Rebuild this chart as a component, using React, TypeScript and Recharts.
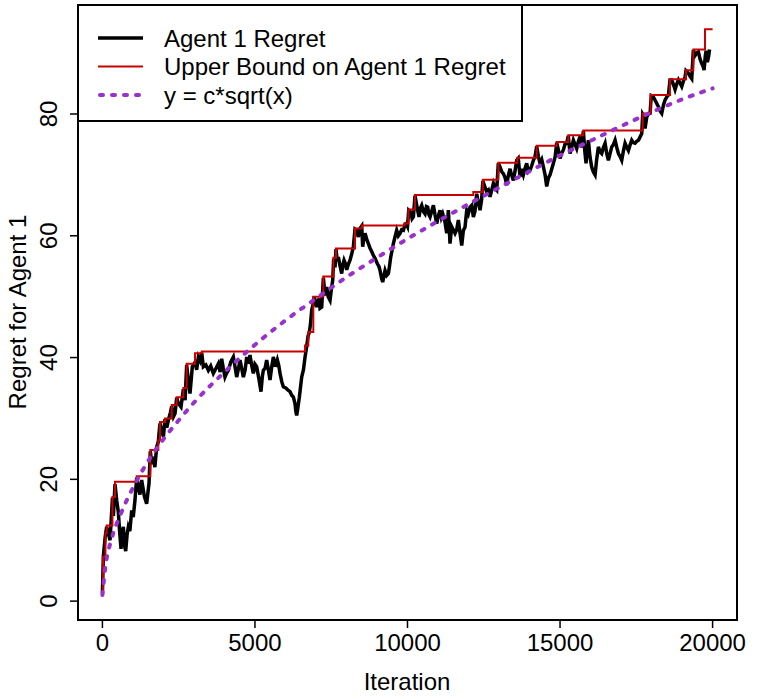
import { LineChart, Line, XAxis, YAxis, Legend } from 'recharts'

// Agent 1 regret (black trace)
const regretX = [
  0, 30, 90, 140, 200, 250, 330, 360, 413, 470, 522, 570, 610, 650, 686, 730, 763, 810, 850, 900,
  960, 1010, 1068, 1124, 1178, 1230, 1287, 1375, 1450, 1528, 1570, 1620, 1669, 1720, 1778, 1833, 1855, 1888, 1942, 2000,
  2052, 2110, 2161, 2230, 2271, 2330, 2380, 2435, 2489, 2576, 2653, 2710, 2762, 2820, 2871, 2948, 3035, 3090, 3145, 3200,
  3255, 3308, 3390, 3472, 3550, 3636, 3720, 3800, 3860, 3909, 3960, 4018, 4070, 4128, 4210, 4292, 4350, 4401, 4460, 4510,
  4570, 4620, 4680, 4729, 4790, 4838, 4890, 4947, 5000, 5056, 5130, 5198, 5240, 5275, 5330, 5384, 5440, 5493, 5550, 5603,
  5670, 5734, 5780, 5822, 5880, 5931, 6010, 6095, 6150, 6204, 6260, 6314, 6340, 6368, 6400, 6456, 6490, 6532, 6590, 6642,
  6696, 6740, 6784, 6820, 6860, 6900, 6937, 6980, 7025, 7060, 7101, 7133, 7188, 7242, 7298, 7352, 7400, 7461, 7500, 7548,
  7580, 7625, 7656, 7700, 7734, 7790, 7843, 7880, 7920, 7960, 8007, 8060, 8116, 8170, 8226, 8279, 8335, 8390, 8444, 8500,
  8531, 8570, 8608, 8660, 8717, 8770, 8826, 8880, 8936, 9012, 9060, 9100, 9150, 9187, 9230, 9264, 9320, 9373, 9410, 9450,
  9490, 9537, 9590, 9646, 9700, 9756, 9810, 9865, 9920, 9952, 10000, 10040, 10105, 10150, 10193, 10246, 10302, 10340, 10378, 10420,
  10466, 10520, 10575, 10620, 10663, 10700, 10739, 10790, 10849, 10900, 10958, 11010, 11067, 11110, 11155, 11220, 11286, 11340, 11393, 11449,
  11500, 11558, 11612, 11667, 11720, 11777, 11831, 11885, 11941, 11994, 12050, 12104, 12159, 12210, 12268, 12320, 12378, 12430, 12470, 12540,
  12596, 12650, 12706, 12760, 12815, 12870, 12924, 12976, 13033, 13090, 13143, 13200, 13252, 13300, 13361, 13410, 13470, 13520, 13580, 13630,
  13689, 13740, 13798, 13850, 13907, 13960, 14017, 14070, 14126, 14180, 14235, 14290, 14344, 14400, 14454, 14510, 14563, 14620, 14672, 14730,
  14781, 14840, 14891, 14950, 15000, 15050, 15109, 15160, 15219, 15270, 15328, 15380, 15437, 15490, 15546, 15600, 15656, 15710, 15765, 15810,
  15852, 15890, 15929, 15980, 16038, 16090, 16148, 16200, 16257, 16310, 16366, 16420, 16476, 16530, 16585, 16640, 16694, 16750, 16804, 16860,
  16913, 16970, 17022, 17080, 17131, 17190, 17241, 17300, 17350, 17400, 17459, 17510, 17569, 17620, 17678, 17709, 17733, 17787, 17842, 17900,
  17951, 17990, 18060, 18140, 18224, 18280, 18333, 18390, 18443, 18500, 18552, 18604, 18661, 18720, 18770, 18830, 18880, 18940, 18989, 19050,
  19098, 19128, 19207, 19260, 19317, 19368, 19426, 19480, 19535, 19590, 19644, 19690, 19721, 19760, 19786, 19830, 19870, 19900,
]
const regretY = [
  1.3, 7.3, 10.5, 12.2, 11.0, 10.0, 17.0, 14.0, 19.2, 16.5, 14.6, 11.0, 8.6, 11.5, 12.2, 9.0, 8.2, 11.0, 12.2, 11.5,
  14.9, 13.8, 16.6, 20.3, 18.8, 17.5, 19.9, 17.2, 16.0, 19.4, 24.6, 22.5, 23.7, 22.0, 25.3, 26.2, 27.5, 29.2, 28.0, 27.0,
  29.9, 28.5, 29.7, 31.0, 32.0, 30.3, 30.8, 33.4, 32.5, 31.9, 34.8, 33.0, 38.8, 36.0, 34.1, 38.5, 39.2, 38.0, 40.1, 39.5,
  40.8, 38.5, 38.8, 37.9, 38.6, 37.4, 38.2, 39.0, 37.6, 39.8, 38.3, 36.8, 37.4, 37.9, 39.3, 40.1, 38.4, 36.8, 38.2, 39.6,
  38.1, 36.8, 38.0, 40.1, 39.0, 40.4, 38.8, 37.4, 38.9, 38.5, 36.5, 34.4, 36.8, 37.9, 38.2, 39.6, 38.0, 36.3, 38.5, 40.1,
  38.5, 39.6, 38.7, 37.4, 36.0, 35.2, 35.0, 34.6, 34.4, 33.8, 33.5, 32.4, 31.2, 30.5, 31.5, 33.5, 35.0, 36.8, 38.0, 40.1,
  41.8, 43.5, 44.2, 45.5, 47.8, 48.6, 50.0, 49.3, 48.3, 49.0, 49.7, 48.1, 48.3, 53.1, 50.2, 51.6, 50.0, 49.4, 51.0, 52.7,
  56.2, 54.8, 57.8, 55.8, 56.5, 55.0, 53.8, 55.2, 56.0, 55.5, 54.4, 55.3, 56.0, 57.0, 58.2, 61.1, 60.9, 59.8, 61.2, 61.6,
  58.2, 59.5, 60.4, 59.5, 58.7, 58.0, 57.4, 56.8, 56.3, 55.4, 55.0, 54.3, 53.0, 52.4, 53.5, 54.3, 53.5, 53.8, 55.0, 56.5,
  57.5, 58.7, 59.8, 60.9, 60.0, 60.4, 61.0, 60.9, 61.9, 62.0, 61.5, 64.2, 63.9, 62.8, 63.1, 66.6, 65.0, 64.0, 63.1, 64.5,
  65.0, 64.0, 63.6, 64.8, 64.7, 63.5, 63.1, 64.0, 65.0, 63.5, 62.0, 63.3, 64.2, 63.0, 63.6, 62.5, 60.4, 64.2, 58.7, 61.5,
  61.0, 60.4, 61.0, 62.6, 60.5, 58.4, 60.9, 61.4, 64.2, 63.6, 64.7, 65.0, 63.1, 64.0, 66.9, 65.5, 64.2, 66.0, 69.0, 68.0,
  67.2, 67.5, 66.4, 67.5, 68.6, 67.8, 67.5, 71.9, 71.3, 70.5, 70.2, 69.5, 68.3, 69.8, 71.0, 70.0, 69.1, 70.5, 72.4, 72.7,
  69.7, 71.0, 70.0, 71.0, 71.9, 70.5, 70.8, 71.5, 72.4, 73.0, 74.7, 73.0, 71.9, 72.5, 71.3, 70.0, 68.1, 69.5, 70.0, 71.0,
  71.9, 73.0, 75.3, 74.0, 72.7, 73.5, 74.1, 75.0, 75.2, 76.4, 73.5, 74.5, 75.7, 75.0, 74.3, 75.5, 76.3, 74.5, 77.2, 74.0,
  71.9, 74.0, 75.7, 73.0, 71.3, 70.5, 70.0, 72.5, 74.6, 73.8, 73.5, 74.5, 75.2, 73.5, 72.4, 73.5, 74.6, 75.0, 75.7, 74.5,
  73.5, 73.0, 72.4, 74.0, 75.2, 74.5, 74.0, 75.0, 75.7, 75.3, 75.2, 75.5, 75.7, 76.2, 76.8, 80.0, 79.8, 77.6, 79.5, 80.0,
  80.1, 83.0, 82.8, 82.0, 81.2, 80.5, 80.1, 81.5, 82.3, 82.8, 83.1, 85.6, 85.6, 84.8, 84.0, 85.0, 85.6, 85.0, 84.5, 85.5,
  86.1, 87.1, 86.7, 86.2, 85.8, 90.5, 89.6, 90.0, 90.2, 89.0, 88.3, 87.8, 87.2, 89.5, 90.4, 88.5, 89.5, 90.6,
]

// upper bound (red step line): x where each step starts, and its level
const boundX = [
  0, 20, 100, 140, 330, 413, 1124, 1570, 1833, 1888, 2052, 2271, 2435, 2653, 2762, 3035, 3255, 6640, 6750, 6913,
  7240, 7570, 7656, 8279, 8500, 9900, 10030, 10246, 12157, 12470, 12976, 13599, 14235, 14890, 15270, 15762, 17709, 17971, 18604, 19128,
  19368, 19751, 20000,
]
const boundY = [
  1.0, 7.3, 11.2, 12.4, 17.1, 19.6, 20.5, 24.8, 26.4, 29.4, 30.0, 32.2, 33.5, 35.0, 39.0, 40.7, 41.0, 42.0, 44.2, 50.0,
  53.3, 56.4, 57.9, 61.2, 61.7, 62.0, 64.3, 66.7, 67.2, 69.2, 72.0, 72.8, 74.8, 75.4, 76.5, 77.3, 80.1, 83.1, 85.7, 87.2,
  90.6, 93.9, 93.9,
]

// dotted reference curve y = c*sqrt(x), read at these iterations
const curveX = [0, 100, 300, 600, 1000, 1500, 2000, 2500, 3000, 4000, 5000, 6000, 7000, 8000, 9000, 10000, 11000, 12000, 13000, 14000, 15000, 16000, 17000, 18000, 19000, 20000]
const curveY = [1.0, 5.7, 10.2, 14.3, 18.6, 23.0, 26.6, 29.7, 32.6, 37.6, 42.1, 46.1, 49.7, 53.2, 56.4, 59.5, 62.4, 65.2, 67.9, 70.6, 73.2, 75.6, 78.0, 80.3, 82.4, 84.2]

const xTicks = [0, 5000, 10000, 15000, 20000]
const yTicks = [0, 20, 40, 60, 80]
const seriesNames = ['Agent 1 Regret', 'Upper Bound on Agent 1 Regret', 'y = c*sqrt(x)']

const FONT = '"Liberation Sans", Arial, sans-serif'
const BLACK = '#000000'
const RED = '#c80000'
const PURPLE = '#9932cc'

const regret = regretX.map((x, i) => ({ x, y: regretY[i] }))
const bound = boundX.map((x, i) => ({ x, y: boundY[i] }))
const curve = curveX.map((x, i) => ({ x, y: curveY[i] }))

const XTick = (props: any) => {
  const { x, payload } = props
  return (
    <text x={x} y={651} textAnchor="middle" fontSize={24} fontFamily={FONT} fill="#000">
      {payload.value}
    </text>
  )
}

const YTick = (props: any) => {
  const { y, payload } = props
  return (
    <text x={57} y={y} textAnchor="middle" fontSize={24} fontFamily={FONT} fill="#000" transform={`rotate(-90 57 ${y})`}>
      {payload.value}
    </text>
  )
}

const renderLegend = () => (
  <svg width={446} height={118} style={{ display: 'block' }}>
    <rect x={1} y={1} width={444} height={116} fill="#fff" stroke="#000" strokeWidth={2} />
    {seriesNames.map((name, i) => {
      const cy = 34 + i * 28.5
      const lineProps =
        i === 0
          ? { stroke: BLACK, strokeWidth: 3.5 }
          : i === 1
          ? { stroke: RED, strokeWidth: 2 }
          : { stroke: PURPLE, strokeWidth: 4, strokeDasharray: '3 9', strokeLinecap: 'round' as const }
      return (
        <g key={name}>
          <line x1={i === 2 ? 23 : 21} y1={cy} x2={66} y2={cy} {...lineProps} />
          <text x={87} y={cy + 8.5} fontSize={24} fontFamily={FONT} fill="#000">
            {name}
          </text>
        </g>
      )
    })}
  </svg>
)

export default function App() {
  return (
    <div style={{ position: 'absolute', left: 0, top: 0, width: 773, height: 699, background: '#fff', fontFamily: FONT }}>
      <LineChart width={773} height={699} margin={{ top: 5, right: 36, bottom: 0, left: 0 }}>
        <XAxis
          type="number"
          dataKey="x"
          domain={[-800, 20800]}
          ticks={xTicks}
          interval={0}
          allowDataOverflow
          axisLine={false}
          tickLine={{ stroke: '#000', strokeWidth: 1.5 }}
          tickSize={8}
          height={79}
          tick={XTick}
          label={{
            content: () => (
              <text x={407} y={690} textAnchor="middle" fontSize={24} fontFamily={FONT} fill="#000">
                Iteration
              </text>
            ),
          }}
        />
        <YAxis
          type="number"
          domain={[-3.1, 97.9]}
          ticks={yTicks}
          interval={0}
          allowDataOverflow
          axisLine={false}
          tickLine={{ stroke: '#000', strokeWidth: 1.5 }}
          tickSize={8}
          width={78}
          tick={YTick}
          label={{
            content: () => (
              <text x={26} y={312} textAnchor="middle" fontSize={24} fontFamily={FONT} fill="#000" transform="rotate(-90 26 312)">
                Regret for Agent 1
              </text>
            ),
          }}
        />
        <Line data={regret} dataKey="y" type="linear" stroke={BLACK} strokeWidth={3.5} dot={false} activeDot={false} isAnimationActive={false} />
        <Line data={bound} dataKey="y" type="stepAfter" stroke={RED} strokeWidth={2} dot={false} activeDot={false} isAnimationActive={false} />
        <Line
          data={curve}
          dataKey="y"
          type="monotone"
          stroke={PURPLE}
          strokeWidth={4}
          strokeDasharray="3 9"
          strokeLinecap="round"
          dot={false}
          activeDot={false}
          isAnimationActive={false}
        />
        <Legend
          layout="horizontal"
          verticalAlign="middle"
          align="center"
          content={renderLegend}
          wrapperStyle={{ position: 'absolute', left: 77, top: 4, width: 446, height: 118 }}
        />
      </LineChart>
      <div
        style={{
          position: 'absolute',
          left: 77,
          top: 4,
          width: 661,
          height: 617,
          boxSizing: 'border-box',
          border: '2px solid #000',
          pointerEvents: 'none',
        }}
      />
    </div>
  )
}
